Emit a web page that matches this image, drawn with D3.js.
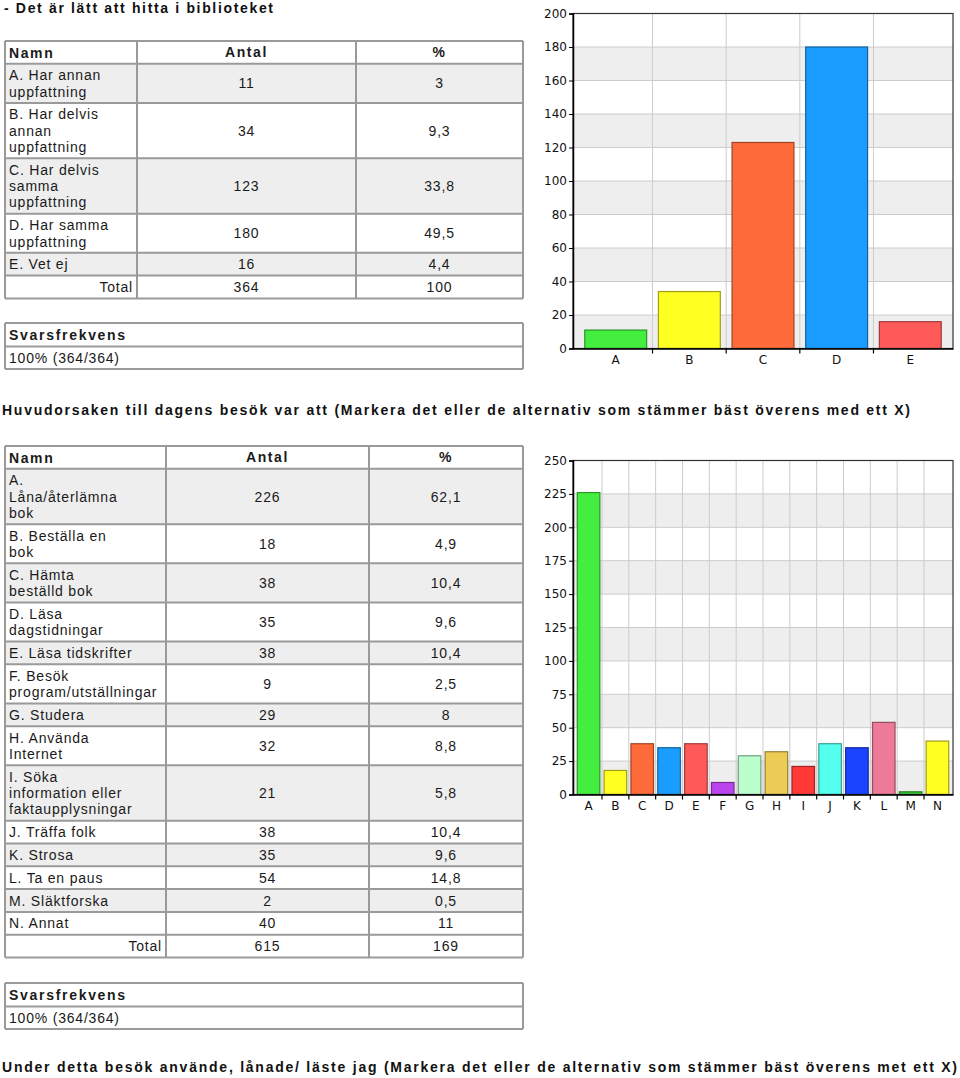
<!DOCTYPE html>
<html><head><meta charset="utf-8">
<script src="https://cdn.jsdelivr.net/npm/d3@7"></script>
<style>body{margin:0;background:#fff} svg{display:block}</style>
</head><body><svg id="c" width="960" height="1078"></svg>
<script>
// ---------- DATA ----------
const title1 = "- Det är lätt att hitta i biblioteket";
const title2 = "Huvudorsaken till dagens besök var att (Markera det eller de alternativ som stämmer bäst överens med ett X)";
const title3 = "Under detta besök använde, lånade/ läste jag (Markera det eller de alternativ som stämmer bäst överens met ett X)";
const headerLabels = ["Namn", "Antal", "%"];
const responseLabel = "Svarsfrekvens";

const q1Categories = ["A", "B", "C", "D", "E"];
const q1Names = ["A. Har annan\nuppfattning", "B. Har delvis\nannan\nuppfattning", "C. Har delvis\nsamma\nuppfattning", "D. Har samma\nuppfattning", "E. Vet ej"];
const q1Counts = [11, 34, 123, 180, 16];
const q1Percents = ["3", "9,3", "33,8", "49,5", "4,4"];
const q1Total = ["364", "100"];
const q1Response = "100% (364/364)";
const q1Colors = ["#44ee3f", "#ffff22", "#ff6a3a", "#1a9dff", "#ff5a5a"];
const q1Ticks = [0, 20, 40, 60, 80, 100, 120, 140, 160, 180, 200];

const q2Categories = ["A", "B", "C", "D", "E", "F", "G", "H", "I", "J", "K", "L", "M", "N"];
const q2Names = ["A.\nLåna/återlämna\nbok", "B. Beställa en\nbok", "C. Hämta\nbeställd bok", "D. Läsa\ndagstidningar", "E. Läsa tidskrifter", "F. Besök\nprogram/utställningar", "G. Studera", "H. Använda\nInternet", "I. Söka\ninformation eller\nfaktaupplysningar", "J. Träffa folk", "K. Strosa", "L. Ta en paus", "M. Släktforska", "N. Annat"];
const q2Counts = [226, 18, 38, 35, 38, 9, 29, 32, 21, 38, 35, 54, 2, 40];
const q2Percents = ["62,1", "4,9", "10,4", "9,6", "10,4", "2,5", "8", "8,8", "5,8", "10,4", "9,6", "14,8", "0,5", "11"];
const q2Total = ["615", "169"];
const q2Response = "100% (364/364)";
const q2Colors = ["#44ee3f", "#ffff22", "#ff6a3a", "#1a9dff", "#ff5a5a", "#bb44ee", "#bbffcc", "#eccc55", "#ff3838", "#55ffee", "#1a44ff", "#ee7a99", "#33cc33", "#ffff22"];
const q2Ticks = [0, 25, 50, 75, 100, 125, 150, 175, 200, 225, 250];

// ---------- DRAWING ----------
const svg = d3.select("#c");
const FONT = "'Liberation Sans', Arial, Helvetica, sans-serif";
const AXFONT = "'DejaVu Sans', Verdana, sans-serif";

function title(text, x, y, w) {
  svg.append("text").attr("x", x).attr("y", y)
    .attr("font-family", FONT).attr("font-weight", "bold").attr("font-size", 14)
    .attr("fill", "#111")
    .attr("textLength", w).attr("lengthAdjust", "spacing")
    .text(text);
}
title(title1, 4, 13, 269);
title(title2, 2, 415, 908);
title(title3, 2, 1072, 955);

function rowH(n) { return 16.3 * n + 6.5; }

function drawTable(cols, y0, names, counts, percents, total) {
  const g = svg.append("g");
  const rows = [{ lines: [headerLabels[0]], v1: headerLabels[1], v2: headerLabels[2], bg: "#fff", bold: true }];
  names.forEach((n, i) => rows.push({ lines: n.split("\n"), v1: String(counts[i]), v2: percents[i], bg: i % 2 === 0 ? "#eeeeee" : "#fff" }));
  rows.push({ lines: ["Total"], v1: total[0], v2: total[1], bg: "#fff", total: true });
  let y = y0;
  const bounds = [y0];
  rows.forEach(r => {
    const h = rowH(r.lines.length);
    g.append("rect").attr("x", cols[0]).attr("y", y).attr("width", cols[3] - cols[0]).attr("height", h).attr("fill", r.bg);
    const t = g.append("g").attr("font-family", FONT).attr("font-size", 14).attr("fill", "#1a1a1a")
      .attr("font-weight", r.bold ? "bold" : "normal").attr("letter-spacing", r.bold ? 1.6 : 0.8);
    r.lines.forEach((ln, k) => {
      if (r.total) {
        t.append("text").attr("x", cols[1] - 4).attr("y", y + 16.5).attr("text-anchor", "end").text(ln);
      } else {
        t.append("text").attr("x", cols[0] + 4).attr("y", y + 16.5 + 16.3 * k).text(ln);
      }
    });
    const cy = y + h / 2 + 5;
    t.append("text").attr("x", (cols[1] + cols[2]) / 2).attr("y", cy).attr("text-anchor", "middle").text(r.v1);
    t.append("text").attr("x", (cols[2] + cols[3]) / 2).attr("y", cy).attr("text-anchor", "middle").text(r.v2);
    y += h;
    bounds.push(y);
  });
  const ln = g.append("g").attr("stroke", "#9a9a9a").attr("stroke-width", 2);
  bounds.forEach(b => ln.append("line").attr("x1", cols[0]).attr("x2", cols[3]).attr("y1", b).attr("y2", b));
  cols.forEach(c => ln.append("line").attr("x1", c).attr("x2", c).attr("y1", y0).attr("y2", y));
  return y;
}

function drawResponse(x0, x1, y0, text) {
  const g = svg.append("g");
  const h1 = 23.5, h2 = 22.5;
  g.append("text").attr("x", x0 + 4).attr("y", y0 + 17).attr("font-family", FONT).attr("font-size", 14)
    .attr("font-weight", "bold").attr("letter-spacing", 1.7).attr("fill", "#1a1a1a").text(responseLabel);
  g.append("text").attr("x", x0 + 4).attr("y", y0 + h1 + 16.5).attr("font-family", FONT).attr("font-size", 14)
    .attr("letter-spacing", 0.8).attr("fill", "#1a1a1a").text(text);
  const ln = g.append("g").attr("stroke", "#9a9a9a").attr("stroke-width", 2);
  [y0, y0 + h1, y0 + h1 + h2].forEach(b => ln.append("line").attr("x1", x0).attr("x2", x1).attr("y1", b).attr("y2", b));
  [x0, x1].forEach(c => ln.append("line").attr("x1", c).attr("x2", c).attr("y1", y0).attr("y2", y0 + h1 + h2));
}

function drawChart(x0, x1, yTop, yBot, cats, values, colors, ticks) {
  const g = svg.append("g");
  const pad = 0.16;
  const x = d3.scaleBand().domain(cats).range([x0, x1]).paddingInner(pad).paddingOuter(pad);
  const y = d3.scaleLinear().domain([ticks[0], ticks[ticks.length - 1]]).range([yBot, yTop]);
  const step = x.step();
  const boundary = c => x(c) - step * pad / 2;
  // background bands
  g.append("rect").attr("x", x0).attr("y", yTop).attr("width", x1 - x0).attr("height", yBot - yTop).attr("fill", "#fff");
  for (let i = 0; i < ticks.length - 1; i += 2) {
    g.append("rect").attr("x", x0).attr("width", x1 - x0)
      .attr("y", y(ticks[i + 1])).attr("height", y(ticks[i]) - y(ticks[i + 1])).attr("fill", "#eeeeee");
  }
  // grid
  const grid = g.append("g").attr("stroke", "#cccccc").attr("stroke-width", 1);
  ticks.forEach(t => grid.append("line").attr("x1", x0).attr("x2", x1).attr("y1", y(t)).attr("y2", y(t)));
  cats.slice(1).forEach(c => { const xx = boundary(c); grid.append("line").attr("x1", xx).attr("x2", xx).attr("y1", yTop).attr("y2", yBot); });
  // bars
  g.append("g").selectAll("rect").data(values).join("rect")
    .attr("x", (d, i) => x(cats[i])).attr("width", x.bandwidth())
    .attr("y", d => y(d)).attr("height", d => yBot - y(d))
    .attr("fill", (d, i) => colors[i])
    .attr("stroke", (d, i) => d3.color(colors[i]).darker(1.3))
    .attr("stroke-width", 1.2);
  // frame
  g.append("rect").attr("x", x0).attr("y", yTop).attr("width", x1 - x0).attr("height", yBot - yTop)
    .attr("fill", "none").attr("stroke", "#333").attr("stroke-width", 1.2);
  // axes
  const ya = g.append("g").attr("transform", `translate(${x0},0)`)
    .call(d3.axisLeft(y).tickValues(ticks).tickSize(4).tickPadding(2).tickFormat(d3.format("d")));
  ya.select(".domain").attr("stroke", "#000").attr("stroke-width", 1.5);
  ya.selectAll("text").attr("font-family", AXFONT).attr("font-size", 12).attr("fill", "#111");
  const xa = g.append("g").attr("transform", `translate(0,${yBot})`)
    .call(d3.axisBottom(x).tickSize(0).tickPadding(7));
  xa.select(".domain").attr("stroke", "#000").attr("stroke-width", 1.5);
  xa.selectAll("text").attr("font-family", AXFONT).attr("font-size", 12).attr("fill", "#111");
  cats.slice(1).forEach(c => {
    const xx = boundary(c);
    g.append("line").attr("x1", xx).attr("x2", xx).attr("y1", yBot).attr("y2", yBot + 5).attr("stroke", "#000").attr("stroke-width", 1.2);
  });
}

// Section 1
drawTable([5, 137, 356, 523], 41, q1Names, q1Counts, q1Percents, q1Total);
drawResponse(5, 523, 323, q1Response);
drawChart(573, 953, 13.5, 348.5, q1Categories, q1Counts, q1Colors, q1Ticks);

// Section 2
drawTable([5, 166, 369, 523], 446, q2Names, q2Counts, q2Percents, q2Total);
drawResponse(5, 523, 983, q2Response);
drawChart(573, 953, 460.5, 794.5, q2Categories, q2Counts, q2Colors, q2Ticks);
</script></body></html>
